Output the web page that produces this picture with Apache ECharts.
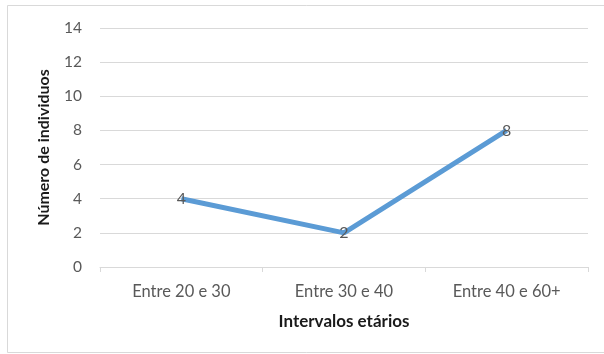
<!DOCTYPE html>
<html>
<head>
<meta charset="utf-8">
<script src="https://cdn.jsdelivr.net/npm/echarts@6/dist/echarts.min.js"></script>
<style>
  html, body { margin: 0; padding: 0; background: #fff; }
  #chart { width: 604px; height: 354px; }
</style>
</head>
<body>
<div id="chart"></div>
<script>
// Age groups and number of individuals in each
const categories = ['Entre 20 e 30', 'Entre 30 e 40', 'Entre 40 e 60+'];
const individuos = [4, 2, 8];
const yTicks = { min: 0, max: 14, interval: 2 };

const FONT = 'Lato, "Open Sans", sans-serif';
const chart = echarts.init(document.getElementById('chart'), null, { renderer: 'canvas' });

chart.setOption({
  backgroundColor: '#ffffff',
  animation: false,
  graphic: [{
    type: 'rect',
    shape: { x: 7.5, y: 5.5, width: 620, height: 347 },
    style: { fill: 'none', stroke: '#d9d9d9', lineWidth: 1 },
    silent: true
  }],
  grid: { left: 100, right: 16, top: 28, bottom: 87 },
  xAxis: {
    type: 'category',
    data: categories,
    boundaryGap: true,
    name: 'Intervalos etários',
    nameLocation: 'middle',
    nameGap: 46,
    nameTextStyle: { fontFamily: FONT, fontSize: 17, fontWeight: 'bold', color: '#1a1a1a' },
    axisLine: { show: true, lineStyle: { color: '#d9d9d9', width: 1 } },
    axisTick: { show: true, length: 5, lineStyle: { color: '#d9d9d9' } },
    axisLabel: { fontFamily: FONT, fontSize: 16.5, color: '#595959', margin: 16 }
  },
  yAxis: {
    type: 'value',
    min: yTicks.min,
    max: yTicks.max,
    interval: yTicks.interval,
    name: 'Número de individuos',
    nameLocation: 'middle',
    nameGap: 48,
    nameTextStyle: { fontFamily: FONT, fontSize: 16, fontWeight: 'bold', color: '#1a1a1a' },
    axisLine: { show: false },
    axisTick: { show: false },
    axisLabel: { fontFamily: FONT, fontSize: 15.5, color: '#595959', margin: 18 },
    splitLine: { show: true, lineStyle: { color: '#d9d9d9', width: 1 } }
  },
  series: [{
    type: 'line',
    data: individuos,
    symbol: 'circle',
    symbolSize: 0.1,
    itemStyle: { color: '#5b9bd5' },
    lineStyle: { color: '#5b9bd5', width: 5 },
    label: {
      show: true,
      position: 'inside',
      fontFamily: FONT,
      fontSize: 16,
      color: '#595959'
    }
  }]
});
</script>
</body>
</html>
